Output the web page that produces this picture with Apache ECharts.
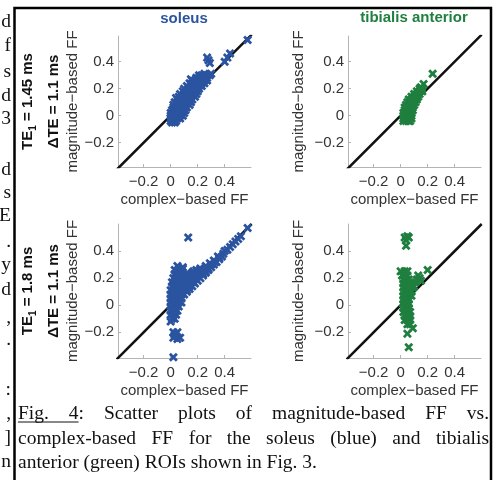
<!DOCTYPE html>
<html><head><meta charset="utf-8">
<script src="https://cdn.jsdelivr.net/npm/echarts@6/dist/echarts.min.js"></script>
<style>html,body{margin:0;padding:0;background:#fff}#c{width:497px;height:480px}</style>
</head><body><div id="c"></div><script>
// ---- data ----
const panelTitles = ['soleus', 'tibialis anterior'];
const rowLabelsTE1 = ['1.45 ms', '1.8 ms'];
const rowLabelsDTE = ['1.1 ms', '1.1 ms'];
const xAxisName = 'complex\u2212based FF';
const yAxisName = 'magnitude\u2212based FF';
const tickValues = [-0.2, 0, 0.2, 0.4];
const identityEnds = [-0.4, 0.6];

const soleus145 = [
 [0.00,-0.04],[0.02,-0.04],[0.04,-0.04],[0.01,-0.05],[0.03,-0.05],
 [0.00,-0.02],[0.02,-0.02],[0.05,-0.02],[0.07,-0.02],
 [0.00,0.00],[0.01,0.00],[0.03,0.00],[0.05,0.00],[0.07,0.00],[0.09,0.00],
 [0.00,0.02],[0.03,0.02],[0.06,0.02],[0.08,0.02],[0.10,0.02],
 [0.01,0.04],[0.03,0.04],[0.05,0.04],[0.08,0.04],[0.11,0.04],
 [0.02,0.06],[0.04,0.06],[0.07,0.06],[0.10,0.06],[0.12,0.06],
 [0.02,0.08],[0.05,0.08],[0.08,0.08],[0.11,0.08],[0.14,0.08],
 [0.03,0.10],[0.06,0.10],[0.09,0.10],[0.12,0.10],[0.15,0.10],
 [0.05,0.12],[0.08,0.12],[0.11,0.12],[0.14,0.12],[0.16,0.12],
 [0.06,0.14],[0.09,0.14],[0.12,0.14],[0.15,0.14],[0.18,0.14],
 [0.07,0.16],[0.10,0.16],[0.13,0.16],[0.16,0.16],[0.19,0.16],
 [0.09,0.18],[0.12,0.18],[0.15,0.18],[0.18,0.18],[0.20,0.18],
 [0.10,0.20],[0.13,0.20],[0.16,0.20],[0.19,0.20],[0.21,0.20],
 [0.12,0.22],[0.15,0.22],[0.18,0.22],[0.21,0.22],[0.23,0.22],
 [0.14,0.24],[0.17,0.24],[0.20,0.24],[0.23,0.24],[0.25,0.24],
 [0.16,0.26],[0.19,0.26],[0.22,0.26],[0.25,0.26],[0.27,0.26],
 [0.19,0.28],[0.21,0.28],[0.24,0.28],[0.27,0.28],
 [0.21,0.30],[0.23,0.30],[0.26,0.30],[0.29,0.30],
 [0.25,0.31],[0.30,0.31],[0.04,0.13],[0.15,0.27],
 [0.27,0.43],[0.29,0.39],[0.28,0.41],[0.40,0.40],[0.42,0.43],[0.44,0.46],[0.57,0.56]
];
const tibialis145 = [
 [0.02,-0.04],[0.04,-0.04],[0.06,-0.04],[0.07,-0.04],
 [0.02,-0.02],[0.04,-0.02],[0.06,-0.02],[0.08,-0.02],
 [0.02,0.00],[0.04,0.00],[0.06,0.00],[0.08,0.00],
 [0.02,0.02],[0.04,0.02],[0.06,0.02],[0.08,0.02],
 [0.03,0.04],[0.05,0.04],[0.07,0.04],[0.09,0.04],
 [0.03,0.06],[0.05,0.06],[0.07,0.06],[0.09,0.06],
 [0.04,0.08],[0.06,0.08],[0.08,0.08],[0.10,0.08],
 [0.05,0.10],[0.07,0.10],[0.09,0.10],[0.11,0.10],
 [0.06,0.12],[0.08,0.12],[0.10,0.12],[0.12,0.12],
 [0.08,0.14],[0.10,0.14],[0.12,0.14],[0.13,0.14],
 [0.10,0.16],[0.12,0.16],[0.14,0.16],
 [0.12,0.18],[0.14,0.18],[0.16,0.18],
 [0.14,0.20],[0.16,0.20],
 [0.17,0.235],[0.15,0.21],[0.237,0.31]
];
const soleus18 = [
 [0.01,-0.10],[0.03,-0.10],
 [0.00,-0.07],[0.02,-0.07],[0.04,-0.07],
 [0.00,-0.04],[0.02,-0.04],[0.04,-0.04],[0.05,-0.04],
 [0.00,-0.01],[0.02,-0.01],[0.04,-0.01],[0.06,-0.01],
 [0.00,0.02],[0.02,0.02],[0.04,0.02],[0.06,0.02],[0.08,0.02],
 [0.00,0.05],[0.02,0.05],[0.04,0.05],[0.06,0.05],[0.08,0.05],
 [0.00,0.08],[0.02,0.08],[0.04,0.08],[0.06,0.08],[0.08,0.08],[0.10,0.08],
 [0.00,0.11],[0.02,0.11],[0.05,0.11],[0.07,0.11],[0.09,0.11],[0.12,0.11],
 [0.01,0.14],[0.03,0.14],[0.05,0.14],[0.08,0.14],[0.11,0.14],[0.14,0.14],
 [0.01,0.17],[0.03,0.17],[0.05,0.17],[0.08,0.17],[0.11,0.17],[0.14,0.17],[0.17,0.17],
 [0.02,0.20],[0.04,0.20],[0.07,0.20],[0.10,0.20],[0.13,0.20],[0.16,0.20],[0.19,0.20],
 [0.03,0.23],[0.06,0.23],[0.09,0.23],[0.12,0.23],[0.15,0.23],[0.18,0.23],[0.21,0.23],[0.24,0.23],
 [0.05,0.25],[0.08,0.25],[0.17,0.25],[0.20,0.25],[0.23,0.25],[0.26,0.25],
 [0.06,0.27],[0.09,0.27],[0.22,0.27],[0.25,0.27],[0.28,0.27],
 [0.12,0.10],[0.14,0.12],[0.16,0.14],[0.18,0.16],[0.20,0.18],[0.22,0.20],[0.24,0.22],[0.26,0.24],
 [0.28,0.26],[0.30,0.28],[0.32,0.30],[0.34,0.32],[0.36,0.34],[0.38,0.36],
 [0.15,0.18],[0.18,0.21],[0.21,0.23],[0.24,0.25],[0.27,0.27],[0.30,0.30],[0.33,0.32],[0.36,0.35],[0.39,0.38],
 [0.16,0.24],[0.19,0.26],[0.22,0.27],[0.26,0.29],[0.29,0.31],[0.32,0.33],[0.35,0.36],[0.40,0.40],
 [0.42,0.41],[0.44,0.43],[0.46,0.45],[0.48,0.47],[0.50,0.49],[0.52,0.51],[0.57,0.57],
 [0.05,0.29],[0.09,0.28],[0.03,0.26],
 [0.02,-0.20],[0.05,-0.20],[0.03,-0.22],[0.02,-0.24],[0.07,-0.24],[0.05,-0.25],
 [0.13,0.50],[0.02,-0.385],[0.00,-0.12]
];
const tibialis18 = [
 [0.05,-0.14],[0.07,-0.14],
 [0.03,-0.11],[0.05,-0.11],[0.07,-0.11],
 [0.03,-0.08],[0.05,-0.08],[0.07,-0.08],
 [0.02,-0.05],[0.04,-0.05],[0.06,-0.05],[0.07,-0.05],
 [0.02,-0.02],[0.04,-0.02],[0.06,-0.02],
 [0.02,0.01],[0.04,0.01],[0.06,0.01],
 [0.02,0.04],[0.04,0.04],[0.06,0.04],
 [0.02,0.07],[0.04,0.07],[0.06,0.07],[0.08,0.07],
 [0.02,0.10],[0.04,0.10],[0.06,0.10],[0.08,0.10],
 [0.02,0.13],[0.04,0.13],[0.06,0.13],[0.09,0.13],
 [0.02,0.16],[0.04,0.16],[0.06,0.16],[0.08,0.16],
 [0.02,0.19],[0.04,0.19],[0.06,0.19],
 [0.01,0.22],[0.03,0.22],[0.05,0.22],
 [0.00,0.25],[0.03,0.25],[0.05,0.25],
 [0.10,0.14],[0.11,0.17],[0.12,0.19],[0.14,0.20],[0.13,0.22],[0.15,0.18],[0.20,0.26],
 [0.03,0.50],[0.06,0.50],[0.04,0.48],[0.04,0.44],[0.05,0.51],
 [0.05,-0.21],[0.06,-0.31],[0.09,-0.17]
];
const captionLines = [
 'Fig. 4: Scatter plots of magnitude-based FF vs.',
 'complex-based FF for the soleus (blue) and tibialis',
 'anterior (green) ROIs shown in Fig. 3.'
];
const marginChars = ['d','f','s','d','3','d','s','E','.','y','d',',','.',':',',',']','n'];
const marginCharY = [22,46,72,96,119,170,193,216,242,265,290,318,340,390,414,438,462];

// ---- styling / layout ----
const BLUE = '#2b54a0', GREEN = '#1f7f3f';
const SANS = '"Liberation Sans", Arial, Helvetica, sans-serif';
const SERIF = '"Liberation Serif", "Times New Roman", serif';
const grids = [
 {left:118, top:36, width:133, height:131},
 {left:348, top:36, width:133, height:131},
 {left:118, top:224, width:133, height:134},
 {left:348, top:224, width:133, height:134}
];
const yRanges = [[-0.38,0.59],[-0.38,0.59],[-0.39,0.60],[-0.39,0.60]];
const xRange = [-0.39, 0.595];
const fmt = v => (Math.round(v*10)/10).toString().replace('-', '\u2212');
const XSYM = 'path://M0,2.2L2.2,0L5,2.8L7.8,0L10,2.2L7.2,5L10,7.8L7.8,10L5,7.2L2.2,10L0,7.8L2.8,5Z';

const xAxes = grids.map((g,i)=>({
 type:'value', gridIndex:i, min:xRange[0], max:xRange[1],
 axisLine:{show:true,onZero:false,lineStyle:{color:'#b4b4b4',width:1}},
 axisTick:{show:true,inside:true,length:3,customValues:tickValues,lineStyle:{color:'#b4b4b4'}},
 axisLabel:{customValues:tickValues,formatter:fmt,color:'#333',fontSize:15,fontFamily:SANS,margin:7},
 splitLine:{show:false},
 name:xAxisName, nameLocation:'middle', nameGap:25,
 nameTextStyle:{color:'#333',fontSize:15,fontFamily:SANS}
}));
const yAxes = grids.map((g,i)=>({
 type:'value', gridIndex:i, min:yRanges[i][0], max:yRanges[i][1],
 axisLine:{show:true,onZero:false,lineStyle:{color:'#b4b4b4',width:1}},
 axisTick:{show:true,inside:true,length:3,customValues:tickValues,lineStyle:{color:'#b4b4b4'}},
 axisLabel:{customValues:tickValues,formatter:fmt,color:'#333',fontSize:15,fontFamily:SANS,margin:4},
 splitLine:{show:false},
 name:yAxisName, nameLocation:'middle', nameGap:(i%2===0?38:42),
 nameTextStyle:{color:'#333',fontSize:15,fontFamily:SANS}
}));
const sets = [soleus145, tibialis145, soleus18, tibialis18];
const colors = [BLUE, GREEN, BLUE, GREEN];
const series = [];
sets.forEach((d,i)=>{
 series.push({type:'line', xAxisIndex:i, yAxisIndex:i, data:[[identityEnds[0],identityEnds[0]],[identityEnds[1],identityEnds[1]]],
   symbol:'none', clip:true, lineStyle:{color:'#111',width:2.5}, z:2, silent:true, animation:false});
 series.push({type:'scatter', xAxisIndex:i, yAxisIndex:i, data:d, symbol:XSYM, symbolSize:9,
   itemStyle:{color:colors[i], opacity:1}, z:3, animation:false});
});

// caption justification
const ctx = document.createElement('canvas').getContext('2d');
const CAP_FONT_SIZE = 19.5;
ctx.font = CAP_FONT_SIZE + 'px ' + SERIF;
const capLeft = 18, capRight = 489;
const capY = [414, 439, 463];
const graphics = [];
captionLines.forEach((line, li)=>{
 const words = line.split(' ');
 const widths = words.map(w=>ctx.measureText(w).width);
 const total = widths.reduce((a,b)=>a+b,0);
 const justify = li < 2;
 const gap = justify ? (capRight-capLeft-total)/(words.length-1) : ctx.measureText(' ').width;
 let x = capLeft;
 words.forEach((w,wi)=>{
   graphics.push({type:'text', x:x, y:capY[li], style:{text:w, fill:'#111', font:CAP_FONT_SIZE+'px '+SERIF, textVerticalAlign:'middle'}});
   x += widths[wi] + gap;
 });
 if (li===0) {
   const uw = widths[0] + gap + ctx.measureText('4').width;
   graphics.push({type:'line', shape:{x1:capLeft, y1:capY[0]+8, x2:capLeft+uw, y2:capY[0]+8}, style:{stroke:'#111', lineWidth:1}});
 }
});
marginChars.forEach((c,i)=>{
 graphics.push({type:'text', x:11, y:marginCharY[i], style:{text:c, fill:'#111', font:'19.5px '+SERIF, textAlign:'right', textVerticalAlign:'middle'}});
});
// frame
graphics.push({type:'rect', shape:{x:14.5, y:8, width:476.5, height:520}, style:{fill:'none', stroke:'#000', lineWidth:2.5}});
// titles
graphics.push({type:'text', x:184, y:19, style:{text:panelTitles[0], fill:BLUE, font:'bold 15px '+SANS, textAlign:'center', textVerticalAlign:'middle'}});
graphics.push({type:'text', x:414, y:18, style:{text:panelTitles[1], fill:GREEN, font:'bold 15px '+SANS, textAlign:'center', textVerticalAlign:'middle'}});
// row labels
const rowCenters = [101.5, 291];
rowCenters.forEach((cy,r)=>{
 graphics.push({type:'text', x:28, y:cy, rotation:Math.PI/2,
   style:{text:'{a|TE}{s|1}{a| = '+rowLabelsTE1[r]+'}', textAlign:'center', textVerticalAlign:'middle',
     rich:{a:{font:'bold 15px '+SANS, fill:'#111', lineHeight:18}, s:{font:'bold 10px '+SANS, fill:'#111', lineHeight:10, padding:[10,0,0,0]}}}});
 graphics.push({type:'text', x:54, y:cy, rotation:Math.PI/2,
   style:{text:'\u0394TE = '+rowLabelsDTE[r], fill:'#111', font:'bold 15px '+SANS, textAlign:'center', textVerticalAlign:'middle'}});
});

const chart = echarts.init(document.getElementById('c'), null, {renderer:'canvas'});
chart.setOption({
 animation:false,
 backgroundColor:'#fff',
 grid: grids,
 xAxis: xAxes,
 yAxis: yAxes,
 series: series,
 graphic: graphics
});
</script></body></html>
